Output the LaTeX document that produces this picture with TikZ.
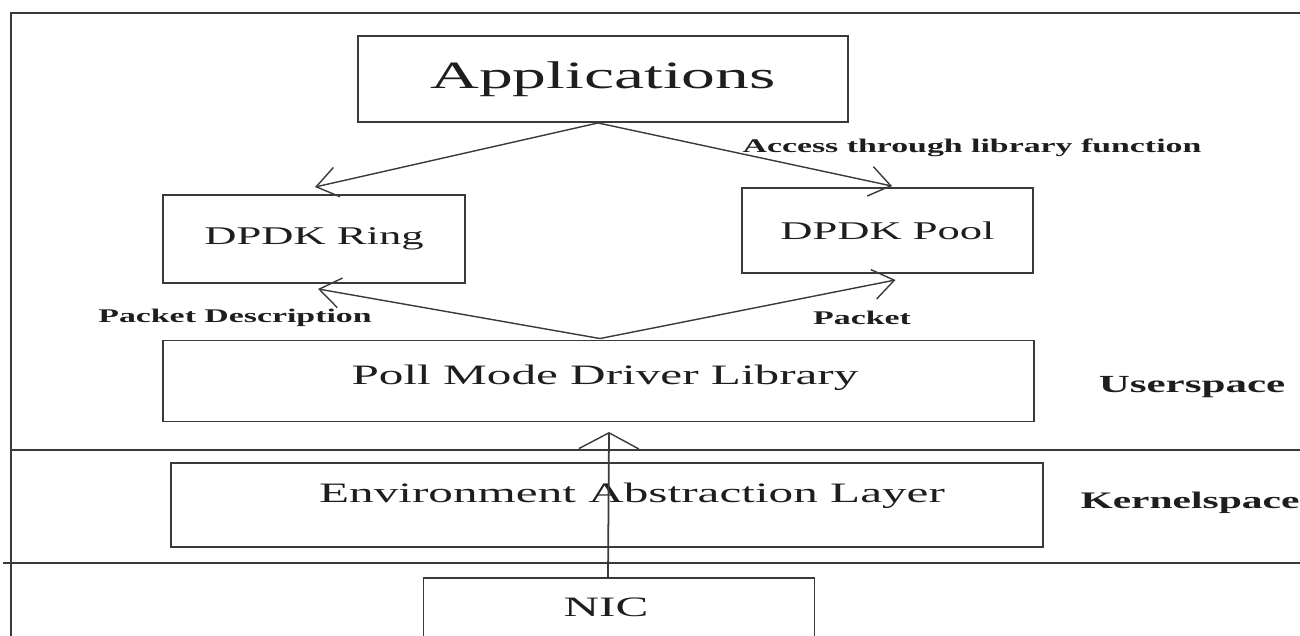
\documentclass[tikz,border=0pt]{standalone}
\usepackage{fontspec}
\setmainfont{Liberation Serif}
\usetikzlibrary{arrows.meta,calc}
\newcommand{\wtxt}[2]{\fontsize{#1}{#1}\selectfont\scalebox{1.75}[1]{#2}}
\definecolor{ln}{HTML}{3A3A3A}
\definecolor{tx}{HTML}{1E1E1E}
\begin{document}
\begin{tikzpicture}[x=0.02cm,y=-0.02cm,
  frame/.style={draw=ln,line width=1.1pt},
  boxsz/.style 2 args={draw=ln,line width=1.1pt,minimum width=#1*0.02cm,minimum height=#2*0.02cm,inner sep=0pt,text=tx},
  txt/.style={inner sep=0pt,text=tx},
  conn/.style={draw=ln,line width=0.8pt,-{Straight Barb[length=0.42cm,width=0.6cm,line width=0.8pt]}},
  upconn/.style={draw=ln,line width=1pt,-{Straight Barb[length=0.32cm,width=1.2cm,line width=0.8pt]}}]
\useasboundingbox (0,0) rectangle (1300,635);
\clip (0,0) rectangle (1300,635);
\fill[white] (0,0) rectangle (1300,635);
% frame and layer separators
\draw[frame] (11,640) -- (11,13) -- (1300,13);
\draw[frame] (11,450) -- (1300,450);
\draw[frame] (3,563) -- (1300,563);
% boxes
\node[boxsz={490}{86}] (apps) at (603,79) {\wtxt{22pt}{Applications}};
\node[boxsz={302}{88}] (ring) at (314,239) {\wtxt{14.5pt}{DPDK Ring}};
\node[boxsz={291}{85}] (pool) at (887.5,230.5) {\wtxt{14.5pt}{DPDK Pool}};
\node[boxsz={871}{81}] (pmd) at (598.5,381) {};
\node[txt] (pmdtext) at (605,378) {\wtxt{16pt}{Poll Mode Driver Library}};
\node[boxsz={872}{84}] (eal) at (607,505) {};
\node[txt] (ealtext) at (632,496) {\wtxt{16pt}{Environment Abstraction Layer}};
\node[boxsz={391}{60}] (nic) at (619,608) {};
\node[txt] (nictext) at (606,607) {\wtxt{16pt}{NIC}};
% side labels
\node[txt] (user) at (1192,387) {\wtxt{14pt}{\bfseries Userspace}};
\node[txt] (kernel) at (1190,503) {\wtxt{13.5pt}{\bfseries Kernelspace}};
% connector end points
\coordinate (appsout) at ($(apps.south)+(-5,0)$);
\coordinate (pmdout) at ($(pmd.north)+(1.5,-1)$);
\coordinate (nicout) at (608,578);
\coordinate (pmdin) at (609,432);
% connectors
\draw[conn] (appsout) -- ($(ring.north)+(1,-7)$);
\draw[conn] (appsout) -- ($(pool.north)+(4.5,-1)$);
\draw[conn] (pmdout) -- ($(ring.south)+(4,5)$);
\draw[conn] (pmdout) -- ($(pool.south)+(8,6)$);
\draw[upconn] (nicout) -- (pmdin);
% connector labels
\node[txt] (access) at (972,148) {\wtxt{11pt}{\bfseries Access through library function}};
\node[txt] (pdesc) at (235,318) {\wtxt{11pt}{\bfseries Packet Description}};
\node[txt] (pkt) at (862,318) {\wtxt{11pt}{\bfseries Packet}};
\end{tikzpicture}
\end{document}
